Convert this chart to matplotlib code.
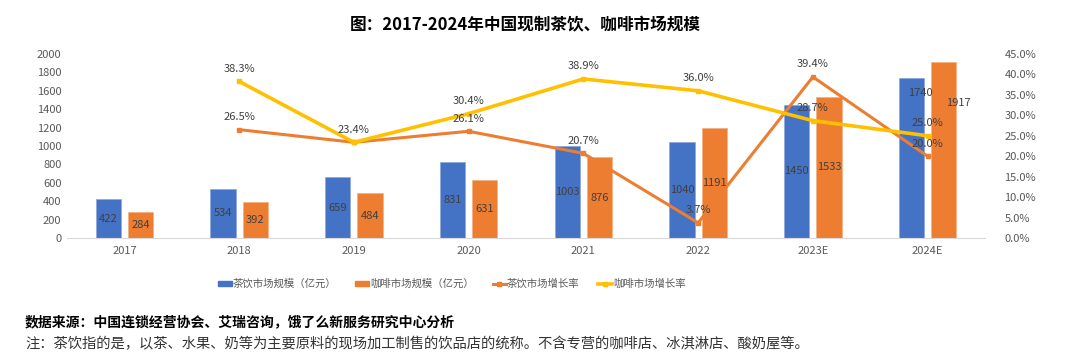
import numpy as np
import matplotlib
matplotlib.use('Agg')
import matplotlib.pyplot as plt
from matplotlib.patches import Patch
from matplotlib.lines import Line2D

plt.rcParams['font.family'] = ['Noto Sans CJK SC', 'DejaVu Sans']

# data
years = ['2017', '2018', '2019', '2020', '2021', '2022', '2023E', '2024E']
tea_size = [422, 534, 659, 831, 1003, 1040, 1450, 1740]
coffee_size = [284, 392, 484, 631, 876, 1191, 1533, 1917]
tea_growth = [np.nan, 26.5, 23.4, 26.1, 20.7, 3.7, 39.4, 20.0]
coffee_growth = [np.nan, 38.3, 23.4, 30.4, 38.9, 36.0, 28.7, 25.0]

blue = '#4472C4'
orange = '#ED7D31'
yellow = '#FFC000'
grey = '#595959'
label_col = '#404040'

fig = plt.figure(figsize=(10.8, 3.58), dpi=100)
ax = fig.add_axes([67 / 1080, 1 - 238 / 358, 918 / 1080, 184 / 358])
ax2 = ax.twinx()

x = np.arange(len(years))
w = 0.22
ax.bar(x - 0.14, tea_size, w, color=blue, edgecolor='#8FAADC', linewidth=0.6, zorder=2)
ax.bar(x + 0.14, coffee_size, w, color=orange, edgecolor='#F4B183', linewidth=0.6, zorder=2)

ax.set_xlim(-0.5, len(years) - 0.5)
ax.set_ylim(0, 2000)
ax.set_yticks(range(0, 2001, 200))
ax.set_xticks(x)
ax.set_xticklabels(years)
ax.tick_params(axis='both', length=0, labelsize=8, colors=grey)
ax.tick_params(axis='x', pad=6)
ax.tick_params(axis='y', pad=4)
for s in ['top', 'right', 'left']:
    ax.spines[s].set_visible(False)
ax.spines['bottom'].set_color('#D9D9D9')

ax2.plot(x, tea_growth, color=orange, lw=2.2, marker='s', ms=3.5, zorder=3)
ax2.plot(x, coffee_growth, color=yellow, lw=2.6, marker='s', ms=3.5, zorder=3)
ax2.set_ylim(0, 45)
ax2.set_yticks(np.arange(0, 46, 5))
ax2.set_yticklabels(['%.1f%%' % v for v in np.arange(0, 46, 5)])
ax2.tick_params(axis='y', length=0, labelsize=8, colors=grey, pad=14)
for s in ['top', 'right', 'left', 'bottom']:
    ax2.spines[s].set_visible(False)

# value labels inside bars; the last group's labels were moved up in the original
for i in range(len(years)):
    ty, cy = tea_size[i] / 2, coffee_size[i] / 2
    tx, cx = x[i] - 0.14, x[i] + 0.14
    if i == len(years) - 1:
        ty, cy = tea_size[i] * 0.905, coffee_size[i] * 0.765
        tx, cx = tx + 0.08, cx + 0.13
    ax2.text(tx, ty, str(tea_size[i]), transform=ax.transData,
             ha='center', va='center', fontsize=8, color=label_col, zorder=5)
    ax2.text(cx, cy, str(coffee_size[i]), transform=ax.transData,
             ha='center', va='center', fontsize=8, color=label_col, zorder=5)

# growth labels above points (the two 2019 labels coincide, draw once)
for i in range(1, len(years)):
    vals = [tea_growth[i]]
    if coffee_growth[i] != tea_growth[i]:
        vals.append(coffee_growth[i])
    for v in vals:
        ax2.annotate('%.1f%%' % v, (x[i], v), xytext=(0, 5.5), textcoords='offset points',
                     ha='center', va='bottom', fontsize=8, color=label_col, zorder=5)

fig.text(525 / 1080, 1 - 25 / 358, '图：2017-2024年中国现制茶饮、咖啡市场规模',
         ha='center', va='center', fontsize=12, fontweight='bold', color='black')

handles = [
    Patch(color=blue),
    Patch(color=orange),
    Line2D([], [], color=orange, lw=2.2, marker='s', ms=3.5),
    Line2D([], [], color=yellow, lw=2.6, marker='s', ms=3.5),
]
labels = ['茶饮市场规模（亿元）', '咖啡市场规模（亿元）', '茶饮市场增长率', '咖啡市场增长率']
leg = fig.legend(handles, labels, loc='center', bbox_to_anchor=(452 / 1080, 1 - 284 / 358),
                 ncol=4, frameon=False, fontsize=7.5, handlelength=1.3, handleheight=0.45,
                 handletextpad=0.1, columnspacing=1.8)
for t in leg.get_texts():
    t.set_color(grey)

fig.text(25 / 1080, 1 - 322 / 358, '数据来源：中国连锁经营协会、艾瑞咨询，饿了么新服务研究中心分析',
         ha='left', va='center', fontsize=10, fontweight='bold', color='black')
fig.text(25 / 1080, 1 - 344 / 358,
         '注：茶饮指的是，以茶、水果、奶等为主要原料的现场加工制售的饮品店的统称。不含专营的咖啡店、冰淇淋店、酸奶屋等。',
         ha='left', va='center', fontsize=10.3, color='#333333')

fig.savefig('out.png', dpi=100)
